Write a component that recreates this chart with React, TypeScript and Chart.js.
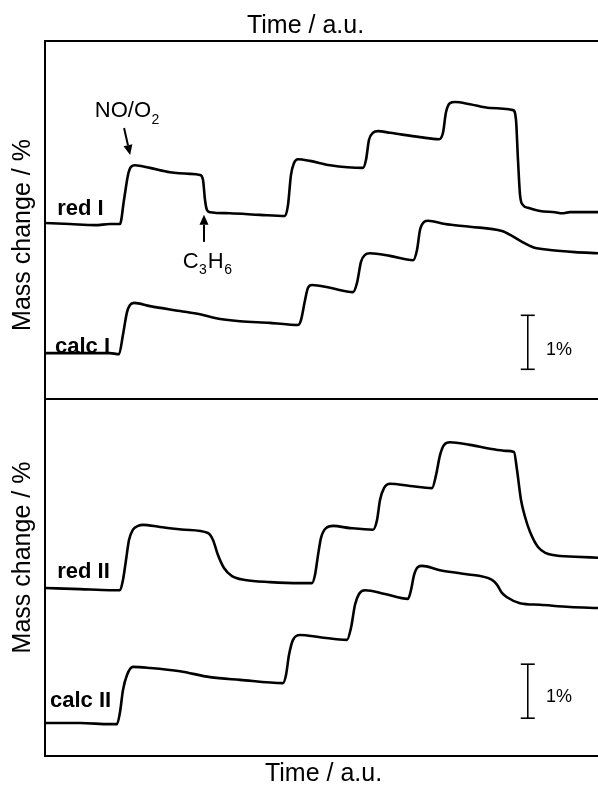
import React, { useEffect, useRef } from "react";
import { Chart, registerables } from "chart.js";

Chart.register(...registerables);

const FONT = '"Liberation Sans", Arial, Helvetica, sans-serif';

// ---------- axis ranges ----------
const timeMin = 0;
const timeMax = 100;
const topMin = 0;
const topMax = 6.63;
const bottomMin = 0;
const bottomMax = 6.61;

// ---------- top panel: red I ----------
const redI_t = [0, 4.52, 9.04, 11.75, 13.56, 14.29, 15.01, 15.55, 16.27, 18.99, 22.6, 26.22, 28.03, 28.57, 28.93, 29.29, 29.84, 33.45, 38.88, 43.4, 43.94, 44.48, 45.03, 45.75, 47.92, 51.54, 57.5, 58.05, 58.59, 59.31, 60.22, 62.39, 67.81, 71.25, 71.97, 72.51, 73.24, 74.14, 76.85, 80.47, 84.63, 85.17, 85.53, 85.9, 86.44, 87.34, 89.51, 92.22, 93.49, 94.94, 97.65, 100];
const redI_v = [3.26, 3.24, 3.22, 3.24, 3.24, 3.69, 4.15, 4.3, 4.33, 4.28, 4.2, 4.17, 4.15, 4.06, 3.69, 3.5, 3.46, 3.44, 3.41, 3.39, 3.59, 4.15, 4.37, 4.44, 4.41, 4.33, 4.28, 4.43, 4.8, 4.93, 4.96, 4.93, 4.85, 4.81, 4.93, 5.31, 5.48, 5.5, 5.46, 5.39, 5.35, 5.17, 4.43, 3.78, 3.59, 3.54, 3.48, 3.46, 3.44, 3.46, 3.46, 3.46];

// ---------- top panel: calc I ----------
const calcI_t = [0, 6.33, 11.75, 13.38, 14.1, 14.83, 15.37, 16.09, 18.99, 24.41, 28.03, 30.74, 35.26, 40.69, 45.75, 46.29, 47.02, 47.56, 48.28, 51.54, 55.7, 56.42, 57.14, 57.87, 58.77, 62.39, 66.55, 67.27, 67.81, 68.54, 69.26, 72.33, 76.85, 82.64, 84.45, 86.26, 88.25, 91.32, 95.84, 100];
const calcI_v = [0.85, 0.85, 0.85, 0.83, 1.19, 1.61, 1.74, 1.78, 1.72, 1.63, 1.57, 1.5, 1.44, 1.41, 1.37, 1.46, 1.83, 2.06, 2.11, 2.06, 1.98, 2.15, 2.54, 2.67, 2.7, 2.65, 2.57, 2.76, 3.13, 3.28, 3.3, 3.24, 3.19, 3.11, 3.02, 2.91, 2.81, 2.76, 2.72, 2.7];

// ---------- bottom panel: red II ----------
const redII_t = [0, 6.33, 11.75, 13.56, 14.1, 14.65, 15.19, 15.91, 16.82, 17.72, 20.8, 25.32, 29.48, 30.38, 31.28, 32.37, 33.82, 36.17, 40.69, 46.11, 48.28, 48.82, 49.37, 49.91, 50.81, 52.08, 55.15, 59.31, 60.04, 60.58, 61.3, 62.39, 66.0, 69.98, 70.71, 71.43, 72.15, 73.24, 76.85, 80.47, 83.36, 84.81, 85.35, 86.08, 86.8, 87.7, 89.15, 91.86, 95.84, 100];
const redII_v = [3.11, 3.09, 3.07, 3.07, 3.26, 3.63, 4.0, 4.19, 4.26, 4.28, 4.24, 4.19, 4.13, 4.0, 3.72, 3.48, 3.33, 3.26, 3.22, 3.2, 3.2, 3.35, 3.72, 4.04, 4.22, 4.26, 4.22, 4.19, 4.37, 4.74, 4.96, 5.04, 5.0, 4.96, 5.2, 5.57, 5.76, 5.81, 5.76, 5.69, 5.65, 5.63, 5.3, 4.74, 4.43, 4.15, 3.87, 3.72, 3.69, 3.67];

// ---------- bottom panel: calc II ----------
const calcII_t = [0, 6.33, 11.75, 13.02, 13.56, 14.1, 14.83, 15.91, 18.99, 24.41, 29.84, 35.26, 43.04, 43.58, 44.12, 44.85, 46.11, 49.73, 54.61, 55.33, 56.06, 56.78, 57.87, 61.48, 65.64, 66.18, 66.73, 67.45, 68.17, 71.43, 75.95, 80.83, 81.74, 82.64, 83.54, 85.9, 89.51, 94.94, 100];
const calcII_v = [0.61, 0.61, 0.59, 0.59, 0.81, 1.22, 1.5, 1.65, 1.63, 1.57, 1.46, 1.41, 1.35, 1.5, 1.87, 2.15, 2.24, 2.2, 2.15, 2.37, 2.8, 3.0, 3.07, 3.0, 2.91, 3.07, 3.35, 3.5, 3.52, 3.44, 3.37, 3.26, 3.17, 3.02, 2.94, 2.83, 2.8, 2.76, 2.74];

// ---------- 1% scale bars ----------
const barTime = [87.3, 87.3];
const barTop_v = [0.55, 1.55];
const barBottom_v = [0.7, 1.7];

// ---------- texts ----------
const xTitle = "Time / a.u.";
const yTitle = "Mass change / %";
const seriesLabelsTop = ["red I", "calc I"];
const seriesLabelsBottom = ["red II", "calc II"];
const scaleLabel = "1%";

type Piece = { s: string; sub?: boolean };
type Note = { parts: Piece[]; t: number; v: number; size: number; bold?: boolean };
type Arrow = { t1: number; v1: number; t2: number; v2: number };

const topNotes: Note[] = [
  { parts: [{ s: "NO/O" }, { s: "2", sub: true }], t: 9.0, v: 5.22, size: 22 },
  { parts: [{ s: "C" }, { s: "3", sub: true }, { s: "H" }, { s: "6", sub: true }], t: 24.9, v: 2.43, size: 22 },
  { parts: [{ s: seriesLabelsTop[0] }], t: 2.2, v: 3.41, size: 22, bold: true },
  { parts: [{ s: seriesLabelsTop[1] }], t: 1.8, v: 0.85, size: 22, bold: true },
  { parts: [{ s: scaleLabel }], t: 90.6, v: 0.82, size: 18 },
];
const topArrows: Arrow[] = [
  { t1: 14.3, v1: 5.02, t2: 15.4, v2: 4.52 },
  { t1: 28.75, v1: 2.91, t2: 28.75, v2: 3.41 },
];
const bottomNotes: Note[] = [
  { parts: [{ s: seriesLabelsBottom[0] }], t: 2.2, v: 3.3, size: 22, bold: true },
  { parts: [{ s: seriesLabelsBottom[1] }], t: 0.9, v: 0.91, size: 22, bold: true },
  { parts: [{ s: scaleLabel }], t: 90.6, v: 1.0, size: 18 },
];

const zip = (t: number[], v: number[]) => t.map((x, i) => ({ x, y: v[i] }));

function lineDs(t: number[], v: number[]) {
  return {
    data: zip(t, v),
    borderColor: "#000",
    borderWidth: 2.6,
    pointRadius: 0,
    cubicInterpolationMode: "monotone" as const,
    fill: false,
  };
}
function barDs(t: number[], v: number[]) {
  return {
    data: zip(t, v),
    borderColor: "#000",
    backgroundColor: "#000",
    borderWidth: 1.6,
    pointStyle: "line" as const,
    pointRadius: 7,
    pointBorderWidth: 1.6,
    pointBorderColor: "#000",
    fill: false,
  };
}

function frameAxis(position: string, min: number, max: number) {
  return {
    type: "linear" as const,
    position,
    min,
    max,
    display: true,
    ticks: { display: false },
    grid: { display: false, drawTicks: false },
    border: { display: true, color: "#000", width: 2 },
  };
}

function notesPlugin(notes: Note[], arrows: Arrow[], titles: { dxTop: number | null; dyBottom: number | null; yShift: number }) {
  return {
    id: "notes",
    afterDatasetsDraw(chart: any) {
      const { ctx, scales, chartArea } = chart;
      const xs = scales.x;
      const ys = scales.y;
      ctx.save();
      ctx.fillStyle = "#000";
      ctx.strokeStyle = "#000";
      ctx.textAlign = "left";
      ctx.textBaseline = "alphabetic";
      for (const n of notes) {
        let x = xs.getPixelForValue(n.t);
        const y = ys.getPixelForValue(n.v);
        for (const p of n.parts) {
          const size = p.sub ? Math.round(n.size * 0.62) : n.size;
          ctx.font = `${n.bold ? "bold " : ""}${size}px ${FONT}`;
          ctx.fillText(p.s, x, p.sub ? y + n.size * 0.3 : y);
          x += ctx.measureText(p.s).width + (p.sub ? 1 : 0.5);
        }
      }
      for (const a of arrows) {
        const x1 = xs.getPixelForValue(a.t1);
        const y1 = ys.getPixelForValue(a.v1);
        const x2 = xs.getPixelForValue(a.t2);
        const y2 = ys.getPixelForValue(a.v2);
        const ang = Math.atan2(y2 - y1, x2 - x1);
        const head = 10;
        const hw = 4.5;
        const bx = x2 - head * Math.cos(ang);
        const by = y2 - head * Math.sin(ang);
        ctx.lineWidth = 2;
        ctx.beginPath();
        ctx.moveTo(x1, y1);
        ctx.lineTo(bx, by);
        ctx.stroke();
        ctx.beginPath();
        ctx.moveTo(x2, y2);
        ctx.lineTo(bx + hw * Math.sin(ang), by - hw * Math.cos(ang));
        ctx.lineTo(bx - hw * Math.sin(ang), by + hw * Math.cos(ang));
        ctx.closePath();
        ctx.fill();
      }
      // axis titles
      ctx.font = `25px ${FONT}`;
      ctx.textAlign = "center";
      const cx = (chartArea.left + chartArea.right) / 2;
      if (titles.dxTop !== null) {
        ctx.fillText(xTitle, cx + titles.dxTop, chartArea.top - 8);
      }
      if (titles.dyBottom !== null) {
        ctx.fillText(xTitle, cx + 2, chartArea.bottom + titles.dyBottom);
      }
      ctx.save();
      ctx.translate(chartArea.left - 22, (chartArea.top + chartArea.bottom) / 2 + titles.yShift);
      ctx.rotate(-Math.PI / 2);
      ctx.textBaseline = "middle";
      ctx.fillText(yTitle, 0, 0);
      ctx.restore();
      ctx.restore();
    },
  };
}

function makeChart(canvas: HTMLCanvasElement, datasets: any[], yMin: number, yMax: number, withTop: boolean, padding: any, plugin: any) {
  const scales: any = {
    x: frameAxis("bottom", timeMin, timeMax),
    y: frameAxis("left", yMin, yMax),
  };
  if (withTop) scales.xt = frameAxis("top", timeMin, timeMax);
  return new Chart(canvas, {
    type: "line",
    data: { datasets },
    options: {
      responsive: false,
      animation: false,
      parsing: false,
      layout: { padding, autoPadding: false },
      plugins: { legend: { display: false }, tooltip: { enabled: false }, title: { display: false } },
      scales,
    } as any,
    plugins: [plugin],
  });
}

export default function App() {
  const topRef = useRef<HTMLCanvasElement | null>(null);
  const botRef = useRef<HTMLCanvasElement | null>(null);

  useEffect(() => {
    const c1 = makeChart(
      topRef.current!,
      [lineDs(redI_t, redI_v), lineDs(calcI_t, calcI_v), barDs(barTime, barTop_v)],
      topMin,
      topMax,
      true,
      { top: 41, left: 45, right: 0, bottom: 1 },
      notesPlugin(topNotes, topArrows, { dxTop: -16, dyBottom: null, yShift: 15 })
    );
    const c2 = makeChart(
      botRef.current!,
      [lineDs(redII_t, redII_v), lineDs(calcII_t, calcII_v), barDs(barTime, barBottom_v)],
      bottomMin,
      bottomMax,
      false,
      { top: 0, left: 45, right: 0, bottom: 30 },
      notesPlugin(bottomNotes, [], { dxTop: null, dyBottom: 25, yShift: -20 })
    );
    return () => {
      c1.destroy();
      c2.destroy();
    };
  }, []);

  return (
    <div style={{ position: "absolute", left: 0, top: 0, width: 598, height: 786, background: "#fff" }}>
      <canvas ref={topRef} width={598} height={400} style={{ position: "absolute", left: 0, top: 0, width: 598, height: 400 }} />
      <canvas ref={botRef} width={598} height={387} style={{ position: "absolute", left: 0, top: 399, width: 598, height: 387 }} />
    </div>
  );
}
